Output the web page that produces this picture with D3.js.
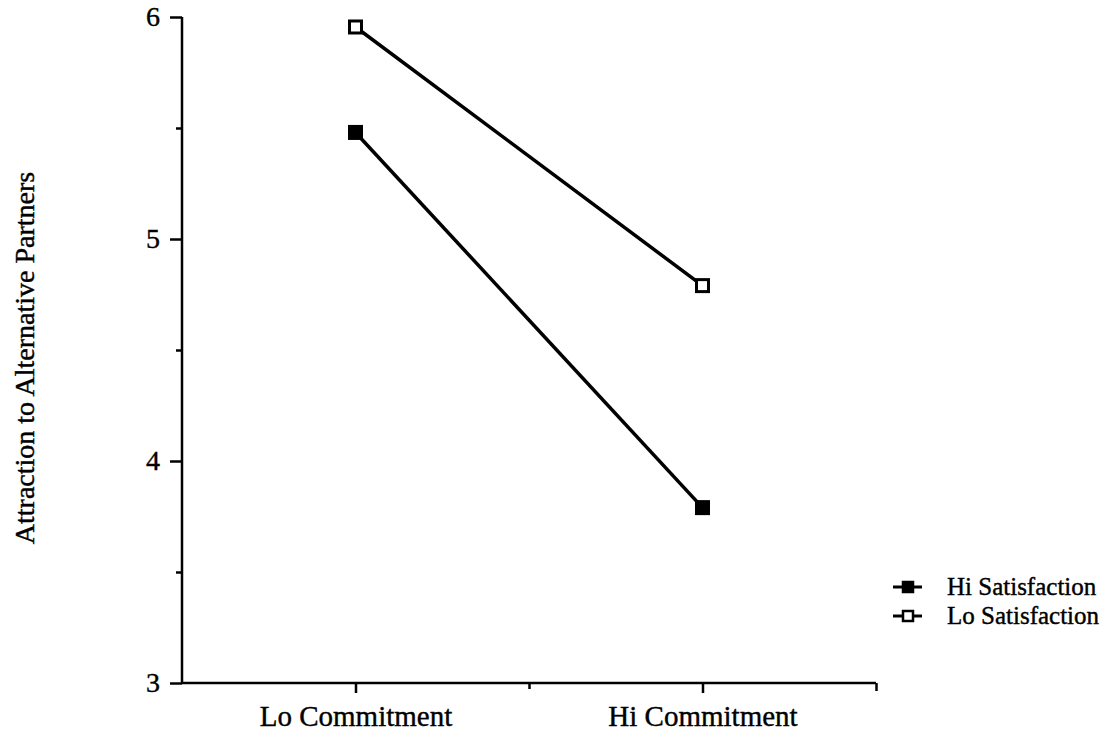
<!DOCTYPE html>
<html><head><meta charset="utf-8">
<script src="https://cdn.jsdelivr.net/npm/d3@7"></script>
<style>body{margin:0;background:#fff}svg{display:block}text{font-family:"Liberation Serif","DejaVu Serif",serif !important;fill:#000;stroke:#000;stroke-width:0.4px}</style>
</head><body><svg id="c" width="1107" height="733"></svg>
<script>
const categories = ["Lo Commitment", "Hi Commitment"];
const categoryPos = [1, 3];
const seriesNames = ["Hi Satisfaction", "Lo Satisfaction"];
const hiSatisfaction = [5.48, 3.79];
const loSatisfaction = [5.955, 4.79];
const yMajorTicks = [3, 4, 5, 6];
const yMinorTicks = [3.5, 4.5, 5.5];
const xTicks = [1, 2, 3, 4];
const yTitle = "Attraction to Alternative Partners";

const svg = d3.select("#c");
const x = d3.scaleLinear().domain([0, 4]).range([182, 876]);
const y = d3.scaleLinear().domain([3, 6]).range([683, 17]);

// Y axis
const yAxisMajor = d3.axisLeft(y).tickValues(yMajorTicks).tickFormat(d3.format("d")).tickSize(12).tickPadding(10);
const gy = svg.append("g").attr("transform", `translate(${x(0)},0)`).call(yAxisMajor);
gy.attr("font-family", null);
gy.select(".domain").attr("stroke-width", 2.5).attr("d", `M0,${y(6)}V${y(3)}`);
gy.selectAll(".tick line").attr("stroke-width", 2.5);
gy.selectAll(".tick text").style("font-size", "28px");
const gyMinor = svg.append("g").attr("transform", `translate(${x(0)},0)`)
  .call(d3.axisLeft(y).tickValues(yMinorTicks).tickFormat("").tickSize(6));
gyMinor.select(".domain").remove();
gyMinor.selectAll(".tick line").attr("stroke-width", 2.5);

// X axis
const gx = svg.append("g").attr("transform", `translate(0,${y(3)})`)
  .call(d3.axisBottom(x).tickValues(xTicks).tickSizeInner(10).tickSizeOuter(0)
    .tickFormat(d => { const i = categoryPos.indexOf(d); return i >= 0 ? categories[i] : ""; }).tickPadding(12));
gx.attr("font-family", null);
gx.select(".domain").attr("stroke-width", 2.5).attr("d", `M${x(0)},0H${x(4)}`);
gx.selectAll(".tick line").attr("stroke-width", 2.5).attr("y2", d => d === 2 ? 6 : (d === 4 ? 8 : 10));
gx.selectAll(".tick text").style("font-size", "29px");

// Y title
svg.append("text").attr("transform", `translate(34,${(y(3)+y(6))/2 + 8}) rotate(-90)`)
  .attr("text-anchor", "middle").style("font-size", "28px").text(yTitle);

// Series
const series = [
  {name: seriesNames[0], values: hiSatisfaction, fill: "#000"},
  {name: seriesNames[1], values: loSatisfaction, fill: "#fff"}
];
const line = d3.line().x((d, i) => x(categoryPos[i])).y(d => y(d));
const ms = 12;
series.forEach(s => {
  svg.append("path").datum(s.values).attr("d", line).attr("fill", "none").attr("stroke", "#000").attr("stroke-width", 3.5);
  svg.selectAll(null).data(s.values).enter().append("rect")
    .attr("x", (d, i) => x(categoryPos[i]) - ms/2).attr("y", d => y(d) - ms/2)
    .attr("width", ms).attr("height", ms).attr("fill", s.fill).attr("stroke", "#000").attr("stroke-width", 3);
});

// Legend
const legend = svg.append("g");
series.forEach((s, i) => {
  const ly = 587 + i * 29;
  legend.append("line").attr("x1", 893).attr("x2", 922).attr("y1", ly).attr("y2", ly).attr("stroke", "#000").attr("stroke-width", 3);
  legend.append("rect").attr("x", 903).attr("y", ly - 5).attr("width", 10).attr("height", 10)
    .attr("fill", s.fill).attr("stroke", "#000").attr("stroke-width", 2.5);
  legend.append("text").attr("x", 947).attr("y", ly + 8).style("font-size", "25px").text(s.name);
});
</script></body></html>
